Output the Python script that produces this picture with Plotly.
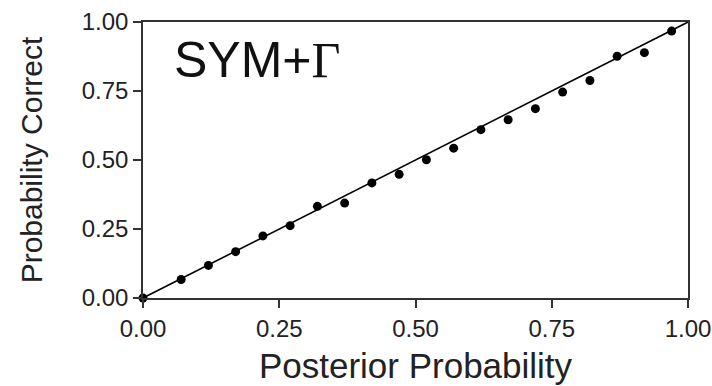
import plotly.graph_objects as go

# Data
posterior = [0.0, 0.07, 0.12, 0.17, 0.22, 0.27, 0.32, 0.37, 0.42, 0.47,
             0.52, 0.57, 0.62, 0.67, 0.72, 0.77, 0.82, 0.87, 0.92, 0.97]
correct = [0.0, 0.067, 0.118, 0.168, 0.225, 0.262, 0.332, 0.344, 0.417, 0.448,
           0.501, 0.543, 0.610, 0.646, 0.686, 0.746, 0.788, 0.876, 0.889, 0.967]
diag_x = [0.0, 1.0]
diag_y = [0.0, 1.0]
tick_vals = [0.0, 0.25, 0.5, 0.75, 1.0]
tick_text = ["0.00", "0.25", "0.50", "0.75", "1.00"]

FONT = "Liberation Sans, Arial, Helvetica, sans-serif"

fig = go.Figure()
fig.add_trace(go.Scatter(x=diag_x, y=diag_y, mode="lines",
                         line=dict(color="black", width=1.6),
                         hoverinfo="skip", showlegend=False, cliponaxis=False))
fig.add_trace(go.Scatter(x=posterior, y=correct, mode="markers",
                         marker=dict(color="black", size=9),
                         showlegend=False, cliponaxis=False))

axis_common = dict(
    range=[0, 1], tickvals=tick_vals, ticktext=tick_text, automargin=False,
    showgrid=False, zeroline=False, showline=True, linecolor="#333333",
    linewidth=1.5, mirror=True, ticks="outside", ticklen=8, tickwidth=1.5,
    tickcolor="#333333", tickfont=dict(family=FONT, size=24, color="#222222"),
)

fig.update_layout(
    width=712, height=386,
    margin=dict(l=143, r=24, t=22, b=88),
    paper_bgcolor="white", plot_bgcolor="white",
    xaxis=dict(**axis_common,
               title=dict(text="Posterior Probability",
                          font=dict(family=FONT, size=35, color="#222222"),
                          standoff=13)),
    yaxis=dict(**axis_common,
               title=dict(text="Probability Correct",
                          font=dict(family=FONT, size=30, color="#222222"),
                          standoff=30)),
    annotations=[dict(
        x=0.053, y=0.862, xref="x", yref="y", xanchor="left", yanchor="middle",
        text='SYM+<span style="font-family:Liberation Serif, Times New Roman, serif">Γ</span>',
        showarrow=False, font=dict(family=FONT, size=50, color="#111111"))],
)

fig.write_html("out.html")
